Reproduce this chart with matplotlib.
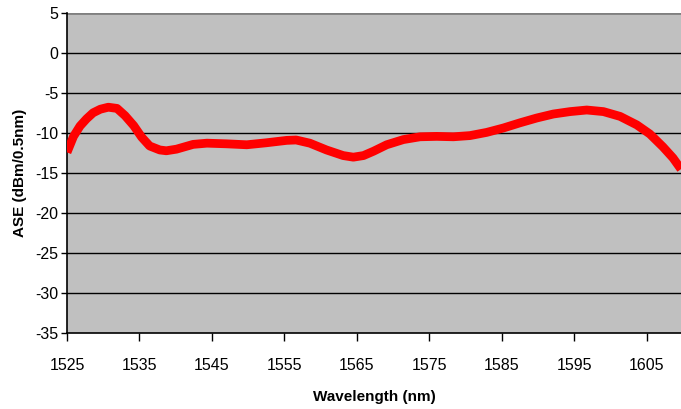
import matplotlib.pyplot as plt

# ASE spectrum
wavelength = [1525.0, 1525.9, 1526.8, 1527.7, 1528.6, 1529.6, 1530.7, 1531.9,
              1533.0, 1534.2, 1535.3, 1536.4, 1537.8, 1538.7, 1540.1, 1542.4,
              1544.3, 1547.0, 1549.8, 1552.5, 1555.3, 1556.6, 1558.5, 1560.8,
              1563.1, 1564.5, 1565.9, 1567.3, 1569.1, 1571.4, 1573.7, 1576.0,
              1578.3, 1580.6, 1582.9, 1585.2, 1587.5, 1589.8, 1592.1, 1594.4,
              1596.7, 1599.0, 1601.3, 1603.6, 1605.4, 1607.2, 1608.6, 1609.7]
ase = [-12.4, -10.4, -9.1, -8.2, -7.45, -7.0, -6.75, -6.9,
       -7.8, -9.05, -10.5, -11.6, -12.1, -12.2, -12.0, -11.4,
       -11.25, -11.33, -11.45, -11.2, -10.9, -10.85, -11.25, -12.1,
       -12.8, -13.0, -12.8, -12.25, -11.45, -10.8, -10.45, -10.4,
       -10.45, -10.3, -9.9, -9.35, -8.7, -8.1, -7.6, -7.3,
       -7.1, -7.3, -7.9, -8.96, -10.1, -11.7, -13.1, -14.5]

x_ticks = [1525, 1535, 1545, 1555, 1565, 1575, 1585, 1595, 1605]
y_ticks = [-35, -30, -25, -20, -15, -10, -5, 0, 5]

plt.rcParams['font.family'] = ['Liberation Sans', 'DejaVu Sans']

fig = plt.figure(figsize=(6.81, 4.09), dpi=100)
ax = fig.add_axes([67 / 681, (409 - 333) / 409, (681 - 67) / 681, (333 - 13.3) / 409])
ax.set_facecolor('#c0c0c0')

for y in y_ticks[1:-1]:
    ax.axhline(y, color='black', lw=1.0, zorder=1)
ax.axhline(5, color='#808080', lw=2.0, zorder=1)

ax.plot(wavelength, ase, color='#ff0000', lw=6.3, solid_capstyle='butt',
        solid_joinstyle='round', zorder=3)

ax.set_xlim(1525, 1609.7)
ax.set_ylim(-35, 5)
ax.set_xticks(x_ticks)
ax.set_yticks(y_ticks)
ax.set_xticklabels([str(t) for t in x_ticks])
ax.set_yticklabels([str(t) for t in y_ticks])

for side in ['top', 'right']:
    ax.spines[side].set_visible(False)
ax.spines['left'].set_linewidth(1.2)
ax.spines['bottom'].set_linewidth(1.2)

ax.tick_params(axis='x', direction='out', length=6, width=1, pad=12, labelsize=11.5)
ax.tick_params(axis='y', direction='out', length=4, width=1, pad=2, labelsize=11.5)

ax.set_xlabel('Wavelength (nm)', fontsize=11, fontweight='bold', labelpad=12)
ax.set_ylabel('ASE (dBm/0.5nm)', fontsize=11, fontweight='bold', labelpad=6)

fig.savefig('out.png', dpi=100)
